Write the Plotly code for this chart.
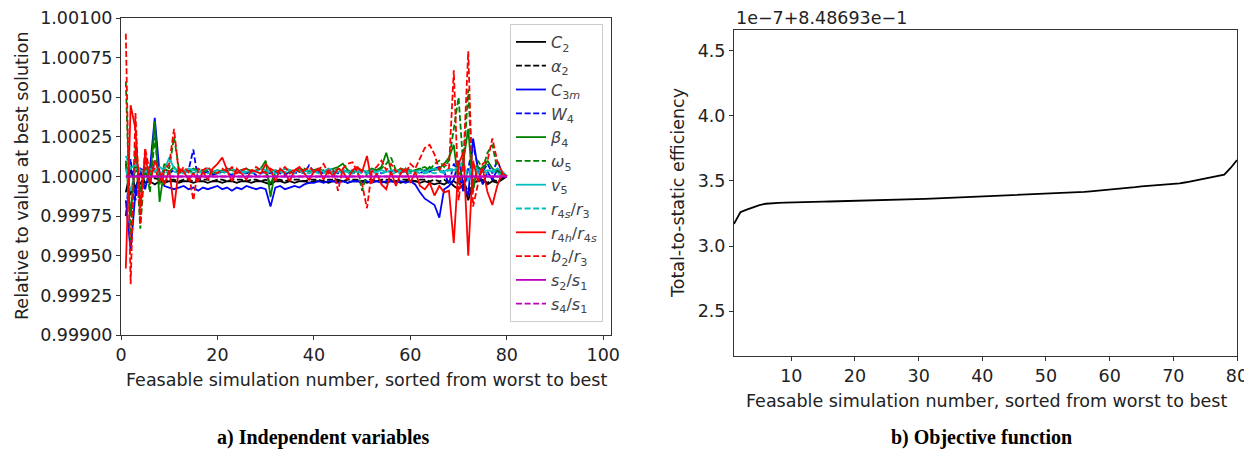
import plotly.graph_objects as go

# ---------------- data ----------------
sim = list(range(1, 81))

# deviations from 1.0 in units of 1e-5
C2 = [-10, 5, -8, 3, -4, -3, -5, -3, -4, -3,
      -3, -4, -3, -3, -4, -3, -3, -4, -3, -3,
      -4, -3, -3, -4, -3, -3, -4, -3, -3, -4,
      -5, -3, -3, -4, -3, -4, -3, -3, -4, -3,
      -3, -3, -4, -3, -3, -3, -4, -3, -3, -3,
      -4, -3, -3, -3, -4, -3, -3, -4, -3, -3,
      -3, -4, -3, -4, -5, -4, -5, -3, -6, -8,
      -5, -15, -4, -3, -2, -5, -3, -4, -2, 0]
alpha2 = [8, -12, 6, -5, 2, -2, -1, -2, -3, -2,
          -2, -3, -2, -2, -3, -2, -2, -2, -3, -2,
          -2, -3, -2, -2, -2, -3, -2, -2, -3, -2,
          -4, -2, -2, -3, -2, -2, -2, -3, -2, -2,
          -2, -3, -2, -2, -2, -3, -2, -2, -2, -3,
          -2, -2, -3, -2, -2, -2, -3, -2, -2, -2,
          -3, -2, -2, -3, -2, -3, -2, -4, -3, -5,
          -3, -10, -2, -3, -2, -4, -2, -3, -1, 0]
C3m = [-15, -47, -10, 4, -8, 5, 37, 2, -6, -7,
       -8, -7, -6, -8, -7, -9, -7, -8, -7, -6,
       -8, -7, -9, -7, -8, -6, -7, -8, -7, -8,
       -19, -7, -6, -8, -7, -6, -7, -5, -4, -4,
       -3, -4, -3, -3, -4, -3, -4, -3, -3, -4,
       -3, -4, -3, -4, -3, -3, -4, -3, -4, -3,
       -5, -10, -14, -16, -18, -26, -8, -6, -2, 10,
       -5, -12, 24, 5, -5, 3, -2, 4, 2, 0]
W4 = [-25, 11, -15, 5, 3, -2, 10, 3, 5, 2,
      4, 3, 2, 4, 17, -3, 2, 3, 1, 2,
      3, 2, 1, 3, 2, 2, 3, 1, 2, 3,
      2, 3, 2, 1, 3, 2, 3, 2, 7, 3,
      3, 2, 4, 3, 2, 4, 3, 2, 3, 4,
      2, 3, 4, 2, 3, 3, 4, 2, 3, 4,
      3, 2, 4, 3, 5, 6, 3, -5, 8, 3,
      -10, 5, 20, 6, 3, 8, 2, 10, 3, 0]
beta4 = [10, -25, 15, -10, 5, -5, 35, -16, 5, 3,
         6, 2, 4, 3, 5, 3, 4, 5, 3, 4,
         3, 5, 4, 3, 4, 5, 3, 4, 5, 10,
         -13, 4, 3, 5, 4, 3, 5, 4, 3, 4,
         5, 3, 4, 5, 6, 8, 4, 3, 5, 4,
         3, 5, 4, 6, 15, 4, 3, 5, 4, 3,
         4, 5, 3, 6, 4, 5, 8, 12, 20, -5,
         10, 30, -8, 6, 4, 10, 5, 3, 2, 0]
omega5 = [60, -40, 20, -33, 10, -10, 25, -5, 8, 5,
          25, 5, 3, 4, 2, 5, 3, 4, 2, 3,
          4, 3, 5, 3, 4, 2, 3, 4, 5, 3,
          -5, 3, 4, 2, 3, 4, 3, 5, 3, 4,
          3, 4, 2, 3, 5, 4, 3, 2, 4, -9,
          2, 4, 3, 5, 8, 12, 4, 3, 5, 4,
          3, 5, 6, 4, 8, 10, 6, 10, 30, 50,
          5, 55, -10, 10, 5, 15, 20, 5, 3, 0]
v5 = [13, 5, 8, 4, 3, 5, 3, 6, 4, 12,
      5, 4, 3, 5, 4, 3, 4, 5, 3, 4,
      3, 4, 5, 3, 4, 3, 4, 3, 5, 4,
      3, 4, 3, 5, 4, 3, 4, 3, 4, 3,
      4, 3, 5, 4, 3, 4, 3, 4, 3, 4,
      3, 4, 3, 4, 3, 4, 3, 4, 3, 4,
      3, 4, 3, 4, 5, 4, 3, 5, 4, 6,
      10, -3, 8, 4, 3, 4, 3, 5, 3, 0]
r4s_r3 = [5, -10, 6, 2, 3, 2, 4, 2, 3, 2,
          3, 2, 2, 3, 2, 3, 2, 2, 3, 2,
          2, 3, 2, 2, 3, 2, 2, 3, 2, 2,
          3, 2, 2, 3, 2, 2, 3, 2, 2, 3,
          2, 2, 3, 2, 2, 3, 2, 2, 3, 2,
          2, 3, 2, 2, 3, 2, 2, 3, 2, 2,
          3, 2, 2, 3, 2, 3, 2, 4, 3, 5,
          4, 3, 6, 2, 3, 2, 4, 2, 1, 0]
r4h_r4s = [-58, 45, 30, -20, 15, -5, 10, 2, -5, 4,
           -20, 5, 3, -2, 2, -3, 3, -2, 5, 8,
           12, 4, -3, 5, 2, -2, 4, 3, 2, 8,
           4, -3, 5, 2, -3, 4, 6, 2, -2, 3,
           5, -2, 4, 0, 5, 3, -2, 4, 6, 3,
           13, -4, 2, -5, -8, 3, -6, 2, 5, -4,
           3, -6, -8, -4, -12, -6, -10, -9, -42, 8,
           15, -50, 10, -3, 5, -10, -18, -6, 2, 0]
b2_r3 = [90, -68, 40, -30, 18, 2, 5, -3, 4, 8,
         30, 2, 6, 3, -15, 5, 4, 6, 3, 2,
         5, 3, 6, 2, 4, 5, 3, 6, 4, 2,
         5, 3, 4, 6, 2, 5, 3, 4, 6, 3,
         4, 8, 2, 4, -9, 5, 8, 9, 3, -5,
         -20, 3, 6, 10, 4, 8, 3, 5, 2, 8,
         5, 12, 18, 20, 14, 4, 8, 5, 67, -15,
         10, 79, -19, -5, 8, 10, 24, 10, 3, 0]
s2_s1 = [0, 0, 0, 0, 0, 0, 0, 0, 0, 0,
         0, 0, 0, 0, 0, 0, 0, 0, 0, 0,
         0, 0, 0, 0, 0, 0, 0, 0, 0, 0,
         0, 0, 0, 0, 0, 0, 0, 0, 0, 0,
         0, 0, 0, 0, 0, 0, 0, 0, 0, 0,
         0, 0, 0, 0, 0, 0, 0, 0, 0, 0,
         0, 0, 0, 0, 0, 0, 0, 0, 0, 0,
         0, 0, 0, 0, 0, 0, 0, 0, 0, 0]
s4_s1 = [0, 0, 0, 0, 0, 0, 0, 0, 0, 0,
         0, 0, 0, 0, 0, 0, 0, 0, 0, 0,
         0, 0, 0, 0, 0, 0, 0, 0, 0, 0,
         0, 0, 0, 0, 0, 0, 0, 0, 0, 0,
         0, 0, 0, 0, 0, 0, 0, 0, 0, 0,
         0, 0, 0, 0, 0, 0, 0, 0, 0, 0,
         0, 0, 0, 0, 0, 0, 0, 0, 0, 0,
         0, 0, 0, 0, 0, 0, 0, 0, 0, 0]

# objective function (tick units: value = 8.48693e-1 + y*1e-7)
efficiency = [3.170, 3.260, 3.280, 3.300, 3.315, 3.325, 3.330, 3.332, 3.334, 3.336,
              3.337, 3.338, 3.339, 3.340, 3.341, 3.342, 3.343, 3.344, 3.345, 3.346,
              3.347, 3.348, 3.349, 3.350, 3.351, 3.352, 3.354, 3.356, 3.358, 3.360,
              3.362, 3.364, 3.366, 3.368, 3.370, 3.372, 3.374, 3.376, 3.378, 3.380,
              3.382, 3.384, 3.386, 3.388, 3.390, 3.392, 3.394, 3.397, 3.400, 3.403,
              3.405, 3.407, 3.409, 3.411, 3.413, 3.416, 3.420, 3.424, 3.428, 3.432,
              3.436, 3.440, 3.446, 3.452, 3.458, 3.462, 3.465, 3.468, 3.472, 3.476,
              3.482, 3.490, 3.500, 3.512, 3.522, 3.530, 3.538, 3.548, 3.600, 3.660]

left_yticks = [0.99900, 0.99925, 0.99950, 0.99975, 1.00000, 1.00025, 1.00050, 1.00075, 1.00100]
left_xticks = [0, 20, 40, 60, 80, 100]
right_xticks = [10, 20, 30, 40, 50, 60, 70, 80]
right_yticks = [2.5, 3.0, 3.5, 4.0, 4.5]

series = [
    ("<i>C</i><sub>2</sub>", C2, "#000000", "solid"),
    ("<i>α</i><sub>2</sub>", alpha2, "#000000", "dash"),
    ("<i>C</i><sub>3<i>m</i></sub>", C3m, "#0000ff", "solid"),
    ("<i>W</i><sub>4</sub>", W4, "#0000ff", "dash"),
    ("<i>β</i><sub>4</sub>", beta4, "#008000", "solid"),
    ("<i>ω</i><sub>5</sub>", omega5, "#008000", "dash"),
    ("<i>v</i><sub>5</sub>", v5, "#00bfbf", "solid"),
    ("<i>r</i><sub>4<i>s</i></sub>/<i>r</i><sub>3</sub>", r4s_r3, "#00bfbf", "dash"),
    ("<i>r</i><sub>4<i>h</i></sub>/<i>r</i><sub>4<i>s</i></sub>", r4h_r4s, "#ff0000", "solid"),
    ("<i>b</i><sub>2</sub>/<i>r</i><sub>3</sub>", b2_r3, "#ff0000", "dash"),
    ("<i>s</i><sub>2</sub>/<i>s</i><sub>1</sub>", s2_s1, "#bf00bf", "solid"),
    ("<i>s</i><sub>4</sub>/<i>s</i><sub>1</sub>", s4_s1, "#bf00bf", "dash"),
]

# page body has an 8px margin: figure is placed at (8, 8) in the 1252x450 window
OFF = 8
W, H = 1252 - OFF, 450 - OFF


def px(x):
    return (x - OFF) / W


def py(y):
    return 1 - (y - OFF) / H


FONT = "DejaVu Sans"
FS = 17.5
AX = "#333333"

fig = go.Figure()
for name, dev, color, dash in series:
    fig.add_trace(go.Scatter(
        x=sim, y=[1 + d * 1e-5 for d in dev], mode="lines", name=name,
        line=dict(color=color, width=1.8, dash=("6px,2.6px" if dash == "dash" else "solid")),
        xaxis="x", yaxis="y"))

fig.add_trace(go.Scatter(x=sim, y=efficiency, mode="lines", showlegend=False,
                         line=dict(color="#000000", width=1.8), xaxis="x2", yaxis="y2"))

axis_common = dict(showline=True, linecolor=AX, linewidth=1, mirror=True, ticks="outside",
                   ticklen=4, tickcolor=AX, showgrid=False, zeroline=False, automargin=False,
                   ticklabeloverflow="allow",
                   tickfont=dict(family=FONT, size=FS, color="#222"))

fig.update_layout(
    width=W, height=H, margin=dict(l=0, r=0, t=0, b=0, autoexpand=False),
    paper_bgcolor="white", plot_bgcolor="white",
    font=dict(family=FONT, size=FS, color="#222"),
    xaxis=dict(domain=[px(121), px(611)], range=[0, 101.6], tickvals=left_xticks,
               anchor="y", **axis_common),
    yaxis=dict(domain=[py(335), py(18)], range=[0.999, 1.001], tickvals=left_yticks,
               ticktext=["%.5f" % v for v in left_yticks], anchor="x", **axis_common),
    xaxis2=dict(domain=[px(734), px(1237)], range=[1, 80], tickvals=right_xticks,
                anchor="y2", **axis_common),
    yaxis2=dict(domain=[py(356), py(30)], range=[2.155, 4.66], tickvals=right_yticks,
                ticktext=["%.1f" % v for v in right_yticks], anchor="x2", **axis_common),
    showlegend=True,
    legend=dict(x=px(510), y=py(24), xanchor="left", yanchor="top",
                bgcolor="rgba(255,255,255,0.8)", bordercolor="#cccccc", borderwidth=1,
                font=dict(family=FONT, size=16, color="#444"), itemwidth=30),
)

ann = [
    dict(text="Feasable simulation number, sorted from worst to best", x=px(366), y=py(380)),
    dict(text="Feasable simulation number, sorted from worst to best", x=px(986), y=py(401)),
    dict(text="Relative to value at best solution", x=px(22), y=py(176), textangle=-90),
    dict(text="Total-to-static efficiency", x=px(678), y=py(193), textangle=-90),
    dict(text="1e−7+8.48693e−1", x=px(821), y=py(18)),
]
for a in ann:
    fig.add_annotation(xref="paper", yref="paper", showarrow=False, xanchor="center",
                       yanchor="middle", font=dict(family=FONT, size=FS, color="#222"), **a)

for txt, cx in [("a) Independent variables", 323), ("b) Objective function", 982)]:
    fig.add_annotation(text="<b>%s</b>" % txt, xref="paper", yref="paper", x=px(cx), y=py(437),
                       xanchor="center", yanchor="middle", showarrow=False,
                       font=dict(family="Liberation Serif", size=20, color="#000"))

fig.write_html("out.html")
